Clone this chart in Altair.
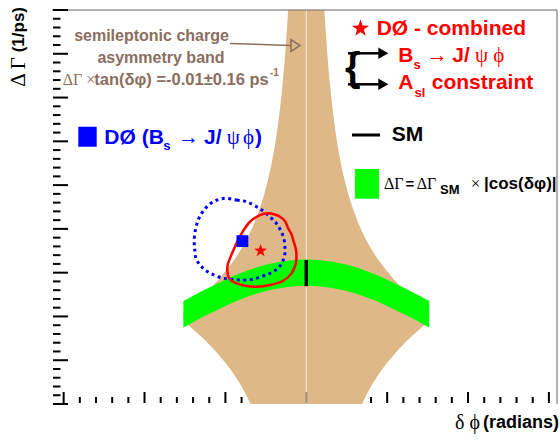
import altair as alt
import pandas as pd

W, H = 505, 394
XDOM = [-3.144, 3.10]
YDOM = [-0.2, 0.7]
SANS = "Liberation Sans"
SERIF = "Liberation Serif"
BROWN = "#8b6e5e"
TAN = "#deb887"
GREEN = "#00ff00"
RED = "#ff0000"
BLUE = "#0000ff"

# ---------------- data ----------------
band_phi = [-1.52, -1.5, -1.4, -1.3, -1.2, -1.1, -1.0, -0.9, -0.8, -0.7, -0.6, -0.5, -0.4, -0.35,
            -0.3, -0.25, -0.225, -0.2, -0.15, -0.1, 0.0, 0.1, 0.15, 0.2, 0.225, 0.25, 0.3, 0.35,
            0.4, 0.5, 0.6, 0.7, 0.8, 0.9, 1.0, 1.1, 1.2, 1.3, 1.4, 1.5, 1.52]
band_hi = [0.008, 0.011, 0.028, 0.044, 0.062, 0.081, 0.103, 0.127, 0.155, 0.190, 0.234, 0.293, 0.378, 0.438,
           0.517, 0.627, 0.699, 0.789, 1.059, 1.595, 3.0, 1.595, 1.059, 0.789, 0.699, 0.627, 0.517, 0.438,
           0.378, 0.293, 0.234, 0.190, 0.155, 0.127, 0.103, 0.081, 0.062, 0.044, 0.028, 0.011, 0.008]
band_lo = [-0.008, -0.012, -0.029, -0.046, -0.064, -0.084, -0.106, -0.131, -0.160, -0.196, -0.241, -0.302, -0.390, -0.452,
           -0.533, -0.646, -0.721, -0.814, -1.092, -1.645, -3.0, -1.645, -1.092, -0.814, -0.721, -0.646, -0.533, -0.452,
           -0.390, -0.302, -0.241, -0.196, -0.160, -0.131, -0.106, -0.084, -0.064, -0.046, -0.029, -0.012, -0.008]

green_phi = [-1.52, -1.4, -1.3, -1.2, -1.1, -1.0, -0.8, -0.6, -0.4, -0.2, 0.0,
             0.2, 0.4, 0.6, 0.8, 1.0, 1.1, 1.2, 1.3, 1.4, 1.52]
green_hi = [0.035, 0.047, 0.057, 0.066, 0.075, 0.084, 0.100, 0.113, 0.122, 0.128, 0.130,
            0.128, 0.122, 0.113, 0.100, 0.084, 0.075, 0.066, 0.057, 0.047, 0.035]
green_lo = [-0.025, -0.013, -0.003, 0.006, 0.015, 0.024, 0.040, 0.053, 0.062, 0.068, 0.070,
            0.068, 0.062, 0.053, 0.040, 0.024, 0.015, 0.006, -0.003, -0.013, -0.025]

red_phi = [-0.471, -0.388, -0.326, -0.264, -0.224, -0.184, -0.162, -0.135, -0.122, -0.129, -0.182, -0.285,
           -0.450, -0.614, -0.759, -0.882, -0.953, -0.977, -0.969, -0.944, -0.882, -0.799, -0.697, -0.573]
red_dg = [0.2355, 0.2328, 0.2277, 0.2179, 0.2012, 0.1882, 0.1745, 0.1585, 0.1441, 0.1213, 0.0984, 0.0815,
          0.0717, 0.0678, 0.0701, 0.0770, 0.0870, 0.1060, 0.1197, 0.1327, 0.1592, 0.1898, 0.2163, 0.2316]

blue_phi = [-1.006, -0.861, -0.738, -0.614, -0.520, -0.429, -0.363, -0.314, -0.277, -0.264, -0.264, -0.285,
            -0.318, -0.367, -0.425, -0.491, -0.565, -0.635, -0.709, -0.787, -0.861, -0.944, -1.014, -1.089,
            -1.163, -1.220, -1.274, -1.323, -1.364, -1.376, -1.385, -1.376, -1.336, -1.265, -1.150]
blue_dg = [0.2698, 0.2659, 0.2620, 0.2506, 0.2391, 0.2241, 0.2111, 0.1951, 0.1784, 0.1592, 0.1441, 0.1288,
           0.1174, 0.1076, 0.1007, 0.0952, 0.0907, 0.0861, 0.0838, 0.0831, 0.0838, 0.0854, 0.0870, 0.0907,
           0.0968, 0.1021, 0.1099, 0.1197, 0.1327, 0.1478, 0.1670, 0.1928, 0.2202, 0.2430, 0.2620]

star_pt = (-0.565, 0.150)
square_pt = (-0.790, 0.172)
sm_phi = 0.0
sm_range = (0.069, 0.129)

x_major = [-3, -2, -1, 0, 1, 2, 3]
y_major = [-0.2, -0.1, 0.0, 0.1, 0.2, 0.3, 0.4, 0.5, 0.6, 0.7]
x_major_vis = [-3, -2, -1, 1, 2, 3]
x_minor_vis = [-2.8, -2.6, -2.4, -2.2, -1.8, -1.6, -1.4, -1.2, -0.8,
               0.8, 1.2, 1.4, 1.6, 1.8, 2.2, 2.4, 2.6, 2.8]
y_minor = [-0.18, -0.16, -0.14, -0.12, -0.08, -0.06, -0.04, -0.02, 0.02, 0.04, 0.06, 0.08,
           0.12, 0.14, 0.16, 0.18, 0.22, 0.24, 0.26, 0.28, 0.32, 0.34, 0.36, 0.38,
           0.42, 0.44, 0.46, 0.48, 0.52, 0.54, 0.56, 0.58, 0.62, 0.64, 0.66, 0.68]

STAR = "M0,-1L0.235,-0.324L0.951,-0.309L0.380,0.124L0.588,0.809L0,0.4L-0.588,0.809L-0.380,0.124L-0.951,-0.309L-0.235,-0.324Z"
TRI_R = "M-1,-1.15L1,0L-1,1.15Z"
TRI_OPEN = "M-1,-1.3L1,0L-1,1.3Z"

xscale = alt.Scale(domain=XDOM, nice=False, zero=False)
yscale = alt.Scale(domain=YDOM, nice=False, zero=False)
xaxis = alt.Axis(orient="bottom", values=x_major, title=None, ticks=False, grid=False,
                 labelFont=SANS, labelFontWeight="bold", labelFontSize=13, labelColor="black",
                 labelPadding=7, domainColor="black", domainWidth=2, labelOverlap=False,
                 labelFlush=False,
                 labelExpr="replace(format(datum.value, 'd'), '\u2212', '-')")
yaxis = alt.Axis(orient="left", values=y_major, title=None, ticks=False, grid=False,
                 labelFont=SANS, labelFontWeight="bold", labelFontSize=13, labelColor="black",
                 labelPadding=3, domainColor="black", domainWidth=2, labelOverlap=False,
                 labelFlush=False,
                 labelExpr="datum.value == 0 ? '0' : replace(format(datum.value, '.1f'), '\u2212', '-')")


def sx(v):
    return round((v - XDOM[0]) / (XDOM[1] - XDOM[0]) * W, 2)


def sy(v):
    return round((YDOM[1] - v) / (YDOM[1] - YDOM[0]) * H, 2)


def X(f="x", axis=None):
    return alt.X(f"{f}:Q", scale=xscale, axis=axis)


def Y(f="y", axis=None):
    return alt.Y(f"{f}:Q", scale=yscale, axis=axis)


def one():
    return pd.DataFrame({"t": [""]})


def txt(s, x, y, size, color="black", font=SANS, weight="bold", align="left", angle=0):
    kw = dict(align=align, baseline="middle", font=font, fontSize=size, fontWeight=weight, color=color)
    if angle:
        kw["angle"] = angle
    return alt.Chart(pd.DataFrame({"t": [s]})).mark_text(**kw).encode(
        x=alt.value(x), y=alt.value(y), text="t:N")


def seg(x1, y1, x2, y2, color="black", width=1.5):
    return alt.Chart(one()).mark_rule(color=color, strokeWidth=width).encode(
        x=alt.value(x1), y=alt.value(y1), x2=alt.value(x2), y2=alt.value(y2))


def box(x1, y1, x2, y2, color):
    return alt.Chart(one()).mark_rect(color=color, opacity=1).encode(
        x=alt.value(x1), y=alt.value(y1), x2=alt.value(x2), y2=alt.value(y2))


def sym(shape, x, y, size, color, filled=True, width=1.5):
    return alt.Chart(one()).mark_point(shape=shape, size=size, filled=filled, color=color,
                                       opacity=1, strokeWidth=width).encode(
        x=alt.value(x), y=alt.value(y))


layers = []

band_df = pd.DataFrame({"x": band_phi, "lo": band_lo, "hi": band_hi})
layers.append(alt.Chart(band_df).mark_area(color=TAN, opacity=1, interpolate="monotone", clip=True).encode(
    x=X("x", xaxis), y=Y("lo", yaxis), y2=alt.Y2("hi:Q")))

layers.append(alt.Chart(pd.DataFrame({"x": [0.0], "y": [-0.2], "y2": [0.7]})).mark_rule(
    color="#f4ebde", strokeWidth=1).encode(x=X(), y=Y(), y2=alt.Y2("y2:Q")))

green_df = pd.DataFrame({"x": green_phi, "lo": green_lo, "hi": green_hi})
layers.append(alt.Chart(green_df).mark_area(color=GREEN, opacity=1, interpolate="monotone", clip=True).encode(
    x=X(), y=Y("lo"), y2=alt.Y2("hi:Q")))

layers.append(alt.Chart(pd.DataFrame({"x": [sm_phi], "y": [sm_range[0]], "y2": [sm_range[1]]})).mark_rule(
    color="black", strokeWidth=3.5).encode(x=X(), y=Y(), y2=alt.Y2("y2:Q")))

blue_df = pd.DataFrame({"x": blue_phi, "y": blue_dg, "o": list(range(len(blue_phi)))})
layers.append(alt.Chart(blue_df).mark_line(color=BLUE, strokeWidth=3, strokeDash=[3, 3.5], strokeCap="butt",
                                            interpolate="cardinal-closed").encode(
    x=X(), y=Y(), order="o:Q"))
red_df = pd.DataFrame({"x": red_phi, "y": red_dg, "o": list(range(len(red_phi)))})
layers.append(alt.Chart(red_df).mark_line(color=RED, strokeWidth=2.5, interpolate="cardinal-closed").encode(
    x=X(), y=Y(), order="o:Q"))

layers.append(alt.Chart(pd.DataFrame({"x": [square_pt[0]], "y": [square_pt[1]]})).mark_point(
    shape="square", size=140, filled=True, color=BLUE, opacity=1).encode(x=X(), y=Y()))
layers.append(alt.Chart(pd.DataFrame({"x": [star_pt[0]], "y": [star_pt[1]]})).mark_point(
    shape=STAR, size=185, filled=True, color=RED, opacity=1).encode(x=X(), y=Y()))

layers += [
    txt("semileptonic charge", 99.5, 26, 16, BROWN, align="center"),
    txt("asymmetry band", 109, 48, 16, BROWN, align="center"),
    txt("\u0394\u0393 \u00d7", 10.7, 70, 16, BROWN, font=SERIF, weight="normal"),
    txt("tan(\u03b4\u03c6) =-0.01\u00b10.16 ps", 42.3, 70, 16.5, BROWN),
    txt("-1", 218, 63, 10, BROWN),
    seg(178, 33.5, 239, 35.5, BROWN, 1.5),
    sym(TRI_OPEN, 243.5, 35.5, 81, BROWN, filled=False, width=1.5),
]

layers += [
    sym(STAR, 308.5, 18.5, 320, RED),
    txt("D\u00d8 - combined", 324.7, 18.5, 21, RED),
    txt("{", 293, 59, 40, "black"),
    seg(296, 43.3, 328, 43.3, "black", 2.5),
    seg(296, 74.3, 328, 74.3, "black", 2.5),
    sym(TRI_R, 331.3, 43.3, 100, "black"),
    sym(TRI_R, 331.3, 74.3, 100, "black"),
    txt("B", 346.3, 45.5, 21, RED),
    txt("s", 361.5, 54.5, 13, RED),
    txt("\u2192", 374.7, 45.5, 21, RED, font=SERIF, weight="normal"),
    txt("J/", 400.3, 45.5, 21, RED),
    txt("\u03c8", 423, 45.5, 21, RED, font=SERIF, weight="normal"),
    txt("\u03d5", 441.3, 45.5, 21, RED, font=SERIF, weight="normal"),
    txt("A", 346.3, 73, 21, RED),
    txt("sl", 362.5, 83, 13, RED),
    txt("constraint", 379.7, 73, 21, RED),
]

layers += [
    seg(300, 125, 328, 125, "black", 3),
    txt("SM", 339.7, 125, 21, "black"),
]

layers += [
    box(303, 159, 327, 188.7, GREEN),
    txt("\u0394\u0393", 332, 174.3, 16, "black", font=SERIF, weight="normal"),
    txt("=", 353.5, 174.3, 15, "black"),
    txt("\u0394\u0393", 364.7, 174.3, 16, "black", font=SERIF, weight="normal"),
    txt("SM", 388, 179.7, 13, "black"),
    txt("\u00d7", 418.7, 174.3, 17, "black", font=SERIF, weight="normal"),
    txt("|cos(\u03b4\u03c6)|", 432, 174.3, 17, "black"),
]

layers += [
    box(26.3, 116.7, 44.7, 136.7, BLUE),
    txt("D\u00d8 (B", 52.3, 127.7, 21, BLUE),
    txt("s", 111.3, 135.5, 13, BLUE),
    txt("\u2192", 126, 127.7, 21, BLUE, font=SERIF, weight="normal"),
    txt("J/", 152, 127.7, 21, BLUE),
    txt("\u03c8", 174.7, 127.7, 21, BLUE, font=SERIF, weight="normal"),
    txt("\u03d5", 191, 127.7, 21, BLUE, font=SERIF, weight="normal"),
    txt(")", 203, 127.7, 21, BLUE),
]

layers += [
    txt("(1/ps)", -33, -3, 17, "black", align="right", angle=270),
    txt("\u0394 \u0393", -33, 47, 21, "black", font=SERIF, weight="normal", align="right", angle=270),
    txt("(radians)", 507, 413, 18, "black", align="right"),
    txt("\u03b4 \u03d5", 403, 413, 20, "black", font=SERIF, weight="normal"),
]

layers += [
    seg(0, 0, W, 0, "#666666", 1),
    seg(W, 0, W, H, "#666666", 1),
]

# inner (ROOT style) tick marks, drawn last
layers += [seg(sx(v), H - 1, sx(v), H - 12, "black", 2) for v in x_major_vis]
layers += [seg(sx(v), H - 1, sx(v), H - 7, "black", 2) for v in x_minor_vis]
layers += [seg(sx(0), H - 1, sx(0), H - 12, "#9a8f82", 2)]
layers += [seg(1, sy(v), 16, sy(v), "black", 2) for v in y_major]
layers += [seg(1, sy(v), 8.5, sy(v), "black", 2) for v in y_minor]

chart = alt.layer(*layers).properties(
    width=W, height=H,
    padding={"left": 52, "top": 10, "right": 3, "bottom": 36},
    autosize=alt.AutoSizeParams(type="none"),
    background="white",
).configure_view(stroke=None)

chart.save("out.html", embed_options={"renderer": "svg", "actions": False})
